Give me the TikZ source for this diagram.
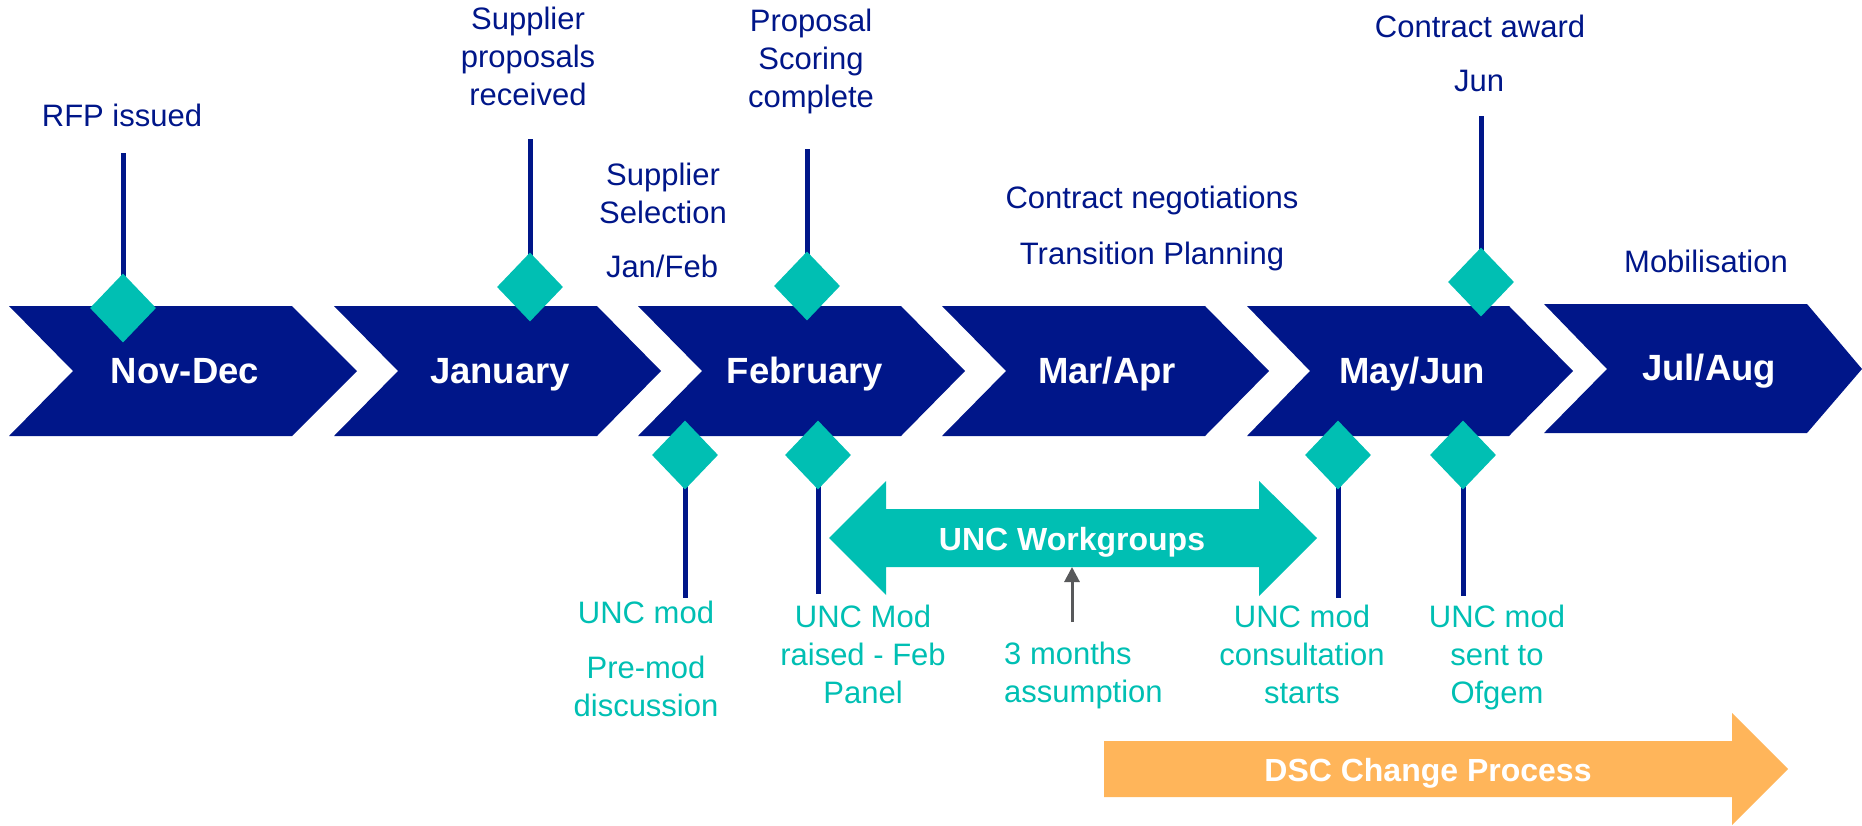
\documentclass[tikz,border=0pt]{standalone}
\usepackage{fontspec}
\setmainfont{Liberation Sans}
\usetikzlibrary{shapes.geometric,arrows.meta}
\definecolor{navy}{RGB}{0,22,137}
\definecolor{tealc}{RGB}{0,191,179}
\definecolor{orng}{RGB}{255,181,90}
\definecolor{gry}{RGB}{88,89,91}
\begin{document}
\begin{tikzpicture}[x=1pt,y=-1pt,
  chev/.style={fill=navy},
  mon/.style={text=white,font=\fontsize{36.5}{44}\selectfont\bfseries,anchor=base,inner sep=0pt},
  lbl/.style={text=navy,font=\fontsize{31}{38}\selectfont,anchor=base,align=center,inner sep=0pt},
  tlbl/.style={lbl,text=tealc},
  diam/.style={diamond,fill=tealc,minimum width=66pt,minimum height=69pt,inner sep=0pt,draw=none},
  stem/.style={draw=navy,line width=5pt},
  bandtxt/.style={text=white,font=\fontsize{32}{38}\selectfont\bfseries,anchor=base,inner sep=0pt},
]
\useasboundingbox (0,0) rectangle (1862,825);

% chevrons
\fill[chev] (9,306) -- (292,306) -- (357,371) -- (292,436) -- (9,436) -- (73,371) -- cycle;
\fill[chev] (334,306) -- (597,306) -- (661,371) -- (597,436) -- (334,436) -- (398,371) -- cycle;
\fill[chev] (638,306) -- (901,306) -- (965,371) -- (901,436) -- (638,436) -- (702,371) -- cycle;
\fill[chev] (942,306) -- (1205,306) -- (1269,371) -- (1205,436) -- (942,436) -- (1006,371) -- cycle;
\fill[chev] (1247,306) -- (1509,306) -- (1573,371) -- (1509,436) -- (1247,436) -- (1310,371) -- cycle;
\fill[chev] (1544,304) -- (1807,304) -- (1862,369) -- (1807,433) -- (1544,433) -- (1607,369) -- cycle;

\node[mon] (m1) at (185,383) {Nov-Dec};
\node[mon] (m2) at (500,383) {January};
\node[mon] (m3) at (805,383) {February};
\node[mon] (m4) at (1107,383) {Mar/Apr};
\node[mon] (m5) at (1412,383) {May/Jun};
\node[mon] (m6) at (1709,380) {Jul/Aug};

% top milestones
\coordinate (s1) at (123,153);  \coordinate (c1) at (123,308);
\coordinate (s2) at (530,139);  \coordinate (c2) at (530,287);
\coordinate (s3) at (807,149);  \coordinate (c3) at (807,286);
\coordinate (s4) at (1481,116); \coordinate (c4) at (1481,282);
\draw[stem] (s1) -- (c1);
\draw[stem] (s2) -- (c2);
\draw[stem] (s3) -- (c3);
\draw[stem] (s4) -- (c4);
\node[diam] (d1) at (c1) {};
\node[diam] (d2) at (c2) {};
\node[diam] (d3) at (c3) {};
\node[diam] (d4) at (c4) {};

% bottom milestones
\coordinate (b1) at (685,455);  \coordinate (e1) at (685,598);
\coordinate (b2) at (818,455);  \coordinate (e2) at (818,594);
\coordinate (b3) at (1338,455); \coordinate (e3) at (1338,598);
\coordinate (b4) at (1463,455); \coordinate (e4) at (1463,596);
\draw[stem] (b1) -- (e1);
\draw[stem] (b2) -- (e2);
\draw[stem] (b3) -- (e3);
\draw[stem] (b4) -- (e4);
\node[diam] (f1) at (b1) {};
\node[diam] (f2) at (b2) {};
\node[diam] (f3) at (b3) {};
\node[diam] (f4) at (b4) {};

% top labels (base anchor = baseline of last line)
\node[lbl] (t1) at (122,126) {RFP issued};
\node[lbl] (t2) at (528,105) {Supplier\\proposals\\received};
\node[lbl] (t3) at (811,107) {Proposal\\Scoring\\complete};
\node[lbl] (t4) at (663,223) {Supplier\\Selection};
\node[lbl] (t5) at (662,277) {Jan/Feb};
\node[lbl] (t6) at (1480,37) {Contract award};
\node[lbl] (t7) at (1479,91) {Jun};
\node[lbl] (t8) at (1152,208) {Contract negotiations};
\node[lbl] (t9) at (1152,264) {Transition Planning};
\node[lbl] (t10) at (1706,272) {Mobilisation};

% bottom labels
\node[tlbl] (u1) at (646,623) {UNC mod};
\node[tlbl] (u2) at (646,716) {Pre-mod\\discussion};
\node[tlbl] (u3) at (863,703) {UNC Mod\\raised - Feb\\Panel};
\node[tlbl,anchor=base west,align=left] (u4) at (1004,702) {3 months\\assumption};
\node[tlbl] (u5) at (1302,703) {UNC mod\\consultation\\starts};
\node[tlbl] (u6) at (1497,703) {UNC mod\\sent to\\Ofgem};

% UNC workgroups double arrow
\fill[tealc] (829,538) -- (886,481) -- (886,509) -- (1259,509) -- (1259,481) -- (1317,538)
  -- (1259,596) -- (1259,567) -- (886,567) -- (886,595) -- cycle;
\node[bandtxt] (wg) at (1072,550) {UNC Workgroups};
\coordinate (wgb) at (1072,567);
\coordinate (g0) at (1072,622);
\draw[gry,line width=3pt,-{Triangle[length=15pt,width=15pt]}] (g0) -- (wgb);

% DSC change process arrow
\fill[orng] (1104,741) -- (1732,741) -- (1732,713) -- (1788,769) -- (1732,825) -- (1732,797) -- (1104,797) -- cycle;
\node[bandtxt] (dsc) at (1428,781) {DSC Change Process};
\end{tikzpicture}
\end{document}
